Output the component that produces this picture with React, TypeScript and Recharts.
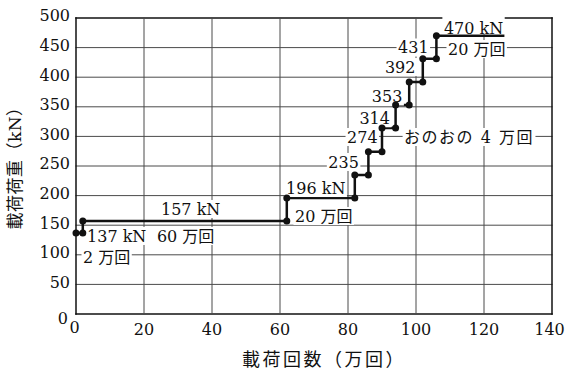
import React, { useLayoutEffect, useRef, useState } from 'react';
import {
  LineChart,
  Line,
  XAxis,
  YAxis,
  CartesianGrid,
  ReferenceDot,
} from 'recharts';

// load steps: each load (kN) is held from its start cycle (万回) to the next start
const cycleStarts = [0, 2, 62, 82, 86, 90, 94, 98, 102, 106];
const loads = [137, 157, 196, 235, 274, 314, 353, 392, 431, 470];
const lastCycle = 126;

const xTicks = [0, 20, 40, 60, 80, 100, 120, 140];
const yTicks = [0, 50, 100, 150, 200, 250, 300, 350, 400, 450, 500];

const steps = loads.flatMap((kN, i) => [
  { n: cycleStarts[i], kN },
  { n: i + 1 < cycleStarts.length ? cycleStarts[i + 1] : lastCycle, kN },
]);

const SERIF = '"DejaVu Serif", "Noto Sans CJK JP", serif';
const INK = '#111';
const GRID = '#4a4a4a';

interface NoteProps {
  x: number;
  y: number;
  text: string;
  anchor: 'start' | 'end' | 'middle';
  up?: number;
  down?: number;
  spacing?: number;
}

// text with a white box behind it, so grid lines break around it like in print
function NoteText({ x, y, text, anchor, up = 9, down = 9, spacing = 0 }: NoteProps) {
  const ref = useRef<SVGTextElement>(null);
  const [box, setBox] = useState<{ x: number; w: number } | null>(null);

  useLayoutEffect(() => {
    if (!ref.current) return;
    const b = ref.current.getBBox();
    setBox((prev) => (prev && prev.x === b.x && prev.w === b.width ? prev : { x: b.x, w: b.width }));
  });

  return (
    <g>
      {box && (
        <rect x={box.x - 1.5} y={y - up} width={box.w + 3} height={up + down} fill="#fff" />
      )}
      <text
        ref={ref}
        x={x}
        y={y}
        dy="0.36em"
        textAnchor={anchor}
        fontFamily={SERIF}
        fontSize={16}
        letterSpacing={spacing}
        fill={INK}
      >
        {text}
      </text>
    </g>
  );
}

// the note is drawn as the dot's shape, anchored at a data position
const note = (
  n: number,
  kN: number,
  text: string,
  anchor: 'start' | 'end' | 'middle',
  opts: { up?: number; down?: number; spacing?: number } = {},
) => (
  <ReferenceDot
    key={`${text}-${n}`}
    x={n}
    y={kN}
    r={0}
    ifOverflow="visible"
    shape={(p: any) => (
      <NoteText x={p.cx} y={p.cy} text={text} anchor={anchor} {...opts} />
    )}
  />
);

// outer grid lines form the black frame; inner ones stay thin grey
const gridLine = (count: number) => (p: any) => {
  const edge = p.index === 0 || p.index === count - 1;
  return (
    <line
      key={p.key ?? `g-${p.x1}-${p.y1}`}
      x1={p.x1}
      y1={p.y1}
      x2={p.x2}
      y2={p.y2}
      stroke={edge ? INK : GRID}
      strokeWidth={edge ? 1.5 : 1}
      strokeLinecap="square"
    />
  );
};

const YTick = (p: any) => {
  const v = p.payload.value;
  const zero = v === 0;
  return (
    <text
      x={p.x - (zero ? 8 : 6)}
      y={p.y}
      dy={zero ? 9.8 : 3.3}
      textAnchor="end"
      fontFamily={SERIF}
      fontSize={16}
      fill={INK}
    >
      {v}
    </text>
  );
};

const XTick = (p: any) => {
  const v = p.payload.value;
  const dx = v === 0 ? -1.5 : v === 140 ? -2.5 : 0;
  return (
    <text
      x={p.x + dx}
      y={p.y}
      dy={v === 0 ? 18.5 : 20.8}
      textAnchor="middle"
      fontFamily={SERIF}
      fontSize={16}
      fill={INK}
    >
      {v}
    </text>
  );
};

const lastIndex = steps.length - 1;
const renderDot = (p: any) =>
  p.index === lastIndex ? (
    <g key={`d${p.index}`} />
  ) : (
    <circle key={`d${p.index}`} cx={p.cx} cy={p.cy} r={3.5} fill={INK} />
  );

export default function App() {
  return (
    <div style={{ position: 'absolute', left: 0, top: 0, width: 565, height: 372, background: '#fff' }}>
      <LineChart
        width={565}
        height={372}
        data={steps}
        margin={{ top: 18, right: 13, bottom: 0, left: 0 }}
      >
        <CartesianGrid
          horizontal={gridLine(yTicks.length)}
          vertical={gridLine(xTicks.length)}
        />
        <XAxis
          type="number"
          dataKey="n"
          domain={[0, 140]}
          ticks={xTicks}
          height={58}
          axisLine={false}
          tickLine={false}
          tickSize={0}
          tickMargin={0}
          tick={XTick}
          interval={0}
          label={(p: any) => {
            const vb = p.viewBox;
            return (
              <text
                x={vb.x + vb.width / 2 + 10}
                y={vb.y + 46}
                dy="0.36em"
                textAnchor="middle"
                fontFamily={SERIF}
                fontSize={18}
                letterSpacing={2.5}
                fill={INK}
              >
                載荷回数（万回）
              </text>
            );
          }}
        />
        <YAxis
          type="number"
          domain={[0, 500]}
          ticks={yTicks}
          width={76}
          axisLine={false}
          tickLine={false}
          tickSize={0}
          tickMargin={0}
          tick={YTick}
          interval={0}
          label={(p: any) => {
            const vb = p.viewBox;
            const cx = vb.x + 15;
            const cy = vb.y + vb.height / 2 - 2;
            return (
              <text
                x={cx}
                y={cy}
                dy="0.36em"
                transform={`rotate(-90 ${cx} ${cy})`}
                textAnchor="middle"
                fontFamily={SERIF}
                fontSize={17}
                letterSpacing={0.5}
                fill={INK}
              >
                載荷荷重（kN）
              </text>
            );
          }}
        />
        {note(108.2, 483, `${loads[9]} kN`, 'start', { up: 12, down: 6 })}
        {note(103.7, 450.2, `${loads[8]}`, 'end')}
        {note(109.4, 447.6, '20 万回', 'start')}
        {note(99.85, 417.2, `${loads[7]}`, 'end')}
        {note(96.0, 367.4, `${loads[6]}`, 'end')}
        {note(92.35, 330.6, `${loads[5]}`, 'end')}
        {note(88.7, 299, `${loads[4]}`, 'end')}
        {note(96.5, 299, 'おのおの 4 万回', 'start', { spacing: 1.5 })}
        {note(83.2, 256.8, `${loads[3]}`, 'end')}
        {note(61.8, 212.8, `${loads[2]} kN`, 'start')}
        {note(64.4, 165.5, '20 万回', 'start')}
        {note(25, 177.4, `${loads[1]} kN`, 'start')}
        {note(3.24, 131.8, `${loads[0]} kN`, 'start')}
        {note(23.8, 131.8, '60 万回', 'start')}
        {note(2.06, 96.3, '2 万回', 'start')}
        <Line
          type="linear"
          dataKey="kN"
          stroke={INK}
          strokeWidth={2.5}
          dot={renderDot}
          activeDot={false}
          isAnimationActive={false}
        />
      </LineChart>
    </div>
  );
}
